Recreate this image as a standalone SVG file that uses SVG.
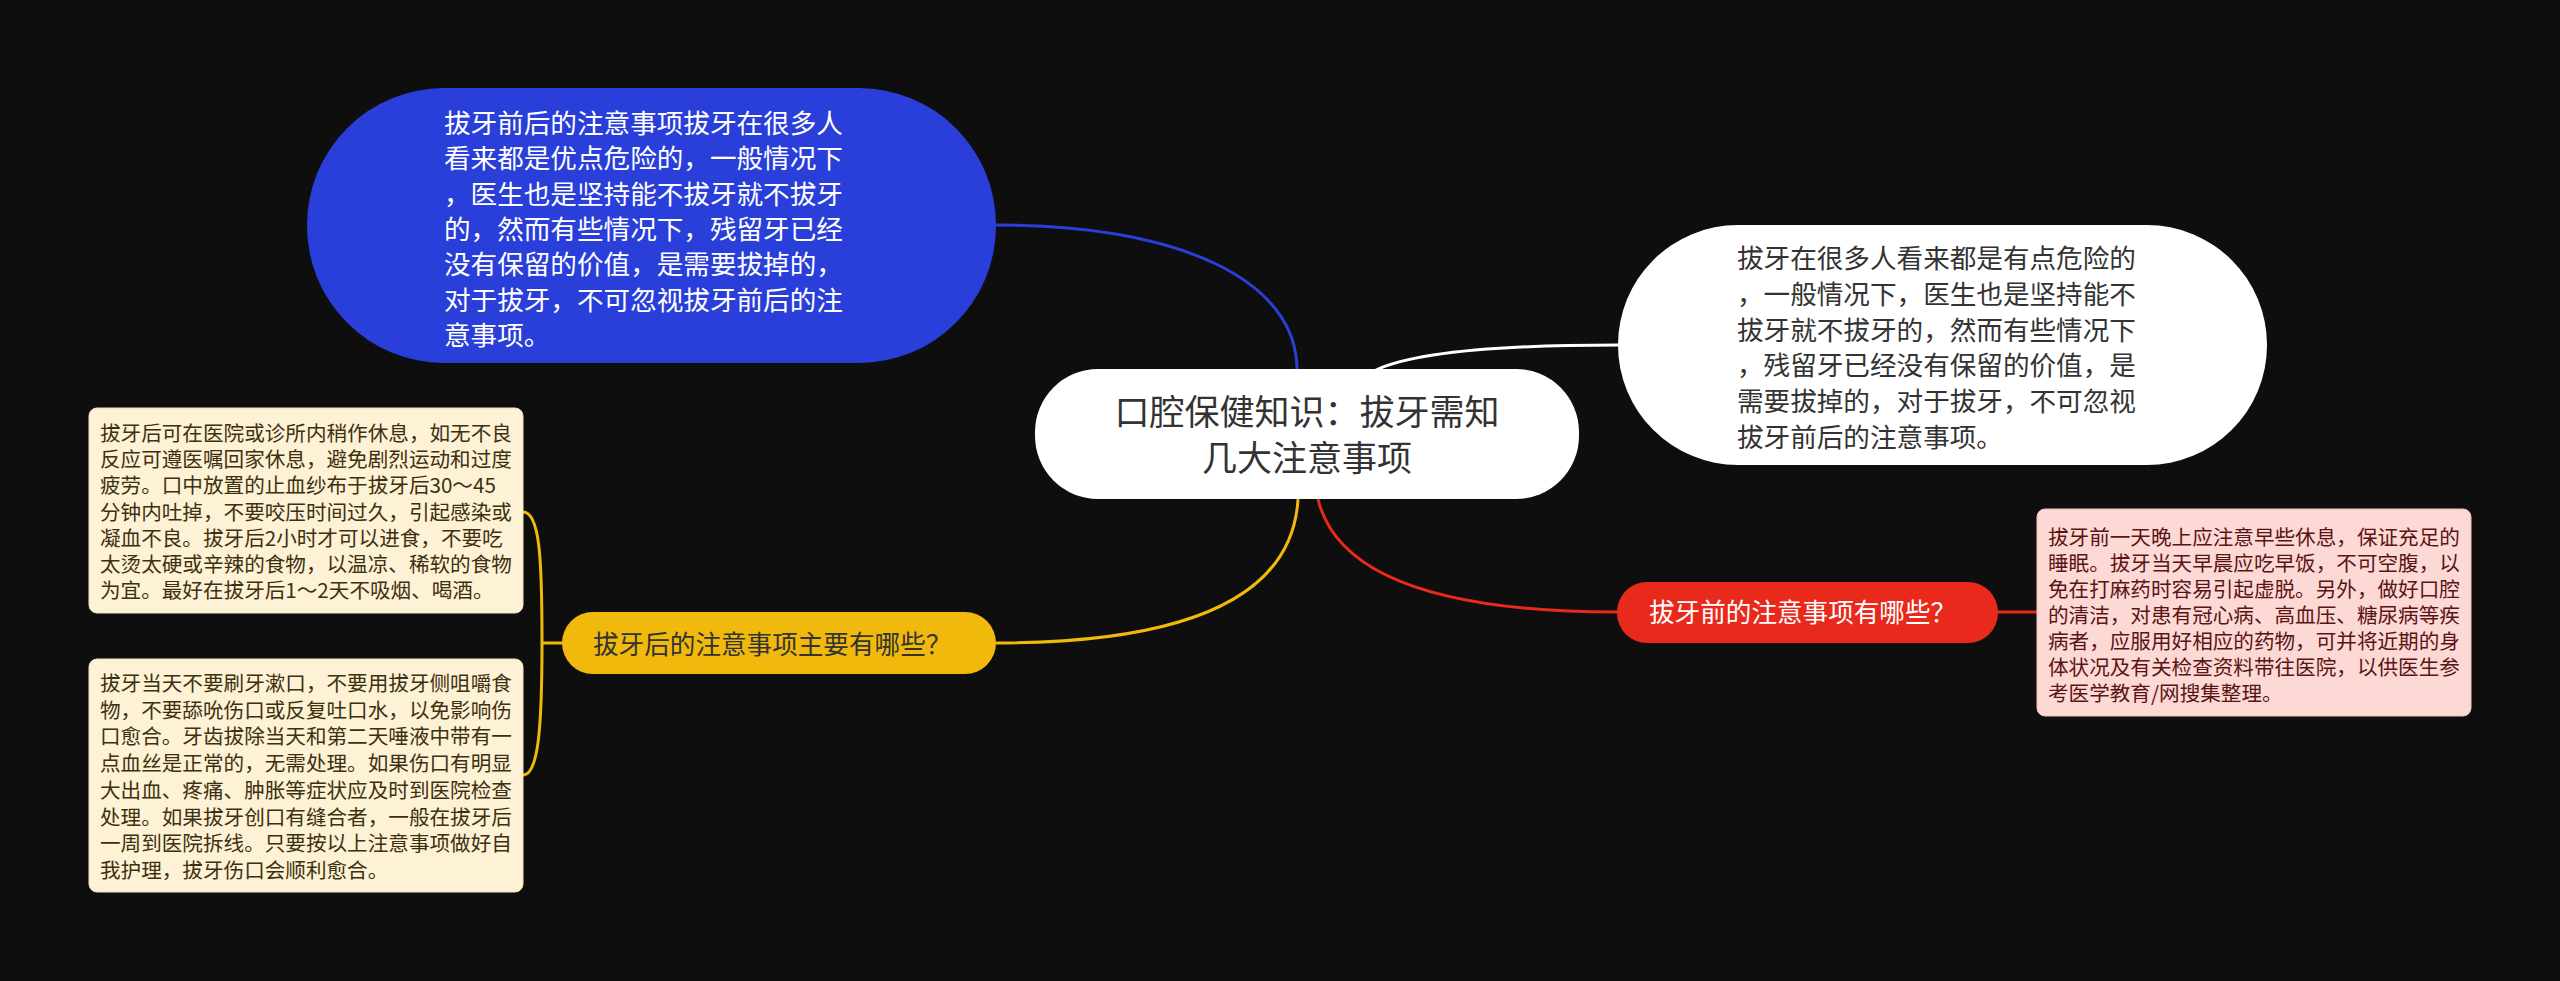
<svg xmlns="http://www.w3.org/2000/svg" width="2560" height="981" viewBox="0 0 2560 981">
<style>
text{font-family:"Noto Sans CJK SC","Noto Sans",sans-serif;}
.c{fill:none;stroke-width:3;stroke-linecap:round;}
.big{font-size:26.6px;}
.mid{font-size:25.6px;}
.small{font-size:20.6px;}
</style>
<rect x="0" y="0" width="2560" height="981" fill="#0e0e0e"/>
<g id="connectors">
<path class="c" stroke="#2a3fd9" d="M996,225 C1180,225 1297,280 1297,370"/>
<path class="c" stroke="#ffffff" d="M1376,370 Q1430,345 1618,345"/>
<path class="c" stroke="#e8291c" d="M1318,499 Q1345,612 1617,612"/>
<path class="c" stroke="#e8291c" d="M1998,612 L2037,612"/>
<path class="c" stroke="#f0b90b" d="M1298,499 Q1290,643 996,643"/>
<path class="c" stroke="#f0b90b" d="M562,643 L542,643 M523,512 C540,512 542,560 542,643 C542,730 538,775 523,775"/>
</g>
<g id="node-center">
<rect x="1035" y="369" width="544" height="130" rx="63" ry="63" fill="#ffffff"/>
<text x="1307" y="425" font-size="35" fill="#333333" text-anchor="middle">口腔保健知识：拔牙需知</text>
<text x="1307" y="471" font-size="35" fill="#333333" text-anchor="middle">几大注意事项</text>
</g>
<g id="node-blue">
<rect x="307" y="88" width="689" height="275" rx="137" ry="137" fill="#2a3fd9"/>
<g class="big" fill="#ffffff">
<text x="444" y="133">拔牙前后的注意事项拔牙在很多人</text>
<text x="444" y="168.3">看来都是优点危险的，一般情况下</text>
<text x="444" y="203.6">，医生也是坚持能不拔牙就不拔牙</text>
<text x="444" y="238.9">的，然而有些情况下，残留牙已经</text>
<text x="444" y="274.2">没有保留的价值，是需要拔掉的，</text>
<text x="444" y="309.5">对于拔牙，不可忽视拔牙前后的注</text>
<text x="444" y="344.8">意事项。</text>
</g>
</g>
<g id="node-white">
<rect x="1618" y="225" width="649" height="240" rx="120" ry="120" fill="#ffffff"/>
<g class="big" fill="#333333">
<text x="1737" y="268">拔牙在很多人看来都是有点危险的</text>
<text x="1737" y="303.8">，一般情况下，医生也是坚持能不</text>
<text x="1737" y="339.6">拔牙就不拔牙的，然而有些情况下</text>
<text x="1737" y="375.4">，残留牙已经没有保留的价值，是</text>
<text x="1737" y="411.2">需要拔掉的，对于拔牙，不可忽视</text>
<text x="1737" y="447">拔牙前后的注意事项。</text>
</g>
</g>
<g id="node-red">
<rect x="1617" y="582" width="381" height="61" rx="30" ry="30" fill="#e8291c"/>
<text class="mid" x="1649" y="622" fill="#ffffff">拔牙前的注意事项有哪些？</text>
</g>
<g id="node-pink">
<rect x="2037" y="509" width="434" height="207" rx="8" ry="8" fill="#fdd9d5" stroke="#f3c2bc" stroke-width="1"/>
<g class="small" fill="#5a1414">
<text x="2048" y="545">拔牙前一天晚上应注意早些休息，保证充足的</text>
<text x="2048" y="571">睡眠。拔牙当天早晨应吃早饭，不可空腹，以</text>
<text x="2048" y="597">免在打麻药时容易引起虚脱。另外，做好口腔</text>
<text x="2048" y="623">的清洁，对患有冠心病、高血压、糖尿病等疾</text>
<text x="2048" y="649">病者，应服用好相应的药物，可并将近期的身</text>
<text x="2048" y="675">体状况及有关检查资料带往医院，以供医生参</text>
<text x="2048" y="701">考医学教育/网搜集整理。</text>
</g>
</g>
<g id="node-yellow">
<rect x="562" y="612" width="434" height="62" rx="31" ry="31" fill="#f0b90b"/>
<text class="mid" x="593" y="654" fill="#333333">拔牙后的注意事项主要有哪些？</text>
</g>
<g id="node-cream1">
<rect x="89" y="408" width="434" height="205" rx="8" ry="8" fill="#fdf1d6" stroke="#f3e3bb" stroke-width="1"/>
<g class="small" fill="#3d300e">
<text x="100" y="441">拔牙后可在医院或诊所内稍作休息，如无不良</text>
<text x="100" y="467.2">反应可遵医嘱回家休息，避免剧烈运动和过度</text>
<text x="100" y="493.4">疲劳。口中放置的止血纱布于拔牙后30～45</text>
<text x="100" y="519.6">分钟内吐掉，不要咬压时间过久，引起感染或</text>
<text x="100" y="545.8">凝血不良。拔牙后2小时才可以进食，不要吃</text>
<text x="100" y="572">太烫太硬或辛辣的食物，以温凉、稀软的食物</text>
<text x="100" y="598.2">为宜。最好在拔牙后1～2天不吸烟、喝酒。</text>
</g>
</g>
<g id="node-cream2">
<rect x="89" y="659" width="434" height="233" rx="8" ry="8" fill="#fdf1d6" stroke="#f3e3bb" stroke-width="1"/>
<g class="small" fill="#3d300e">
<text x="100" y="691">拔牙当天不要刷牙漱口，不要用拔牙侧咀嚼食</text>
<text x="100" y="717.7">物，不要舔吮伤口或反复吐口水，以免影响伤</text>
<text x="100" y="744.4">口愈合。牙齿拔除当天和第二天唾液中带有一</text>
<text x="100" y="771.1">点血丝是正常的，无需处理。如果伤口有明显</text>
<text x="100" y="797.8">大出血、疼痛、肿胀等症状应及时到医院检查</text>
<text x="100" y="824.5">处理。如果拔牙创口有缝合者，一般在拔牙后</text>
<text x="100" y="851.2">一周到医院拆线。只要按以上注意事项做好自</text>
<text x="100" y="877.9">我护理，拔牙伤口会顺利愈合。</text>
</g>
</g>
</svg>
